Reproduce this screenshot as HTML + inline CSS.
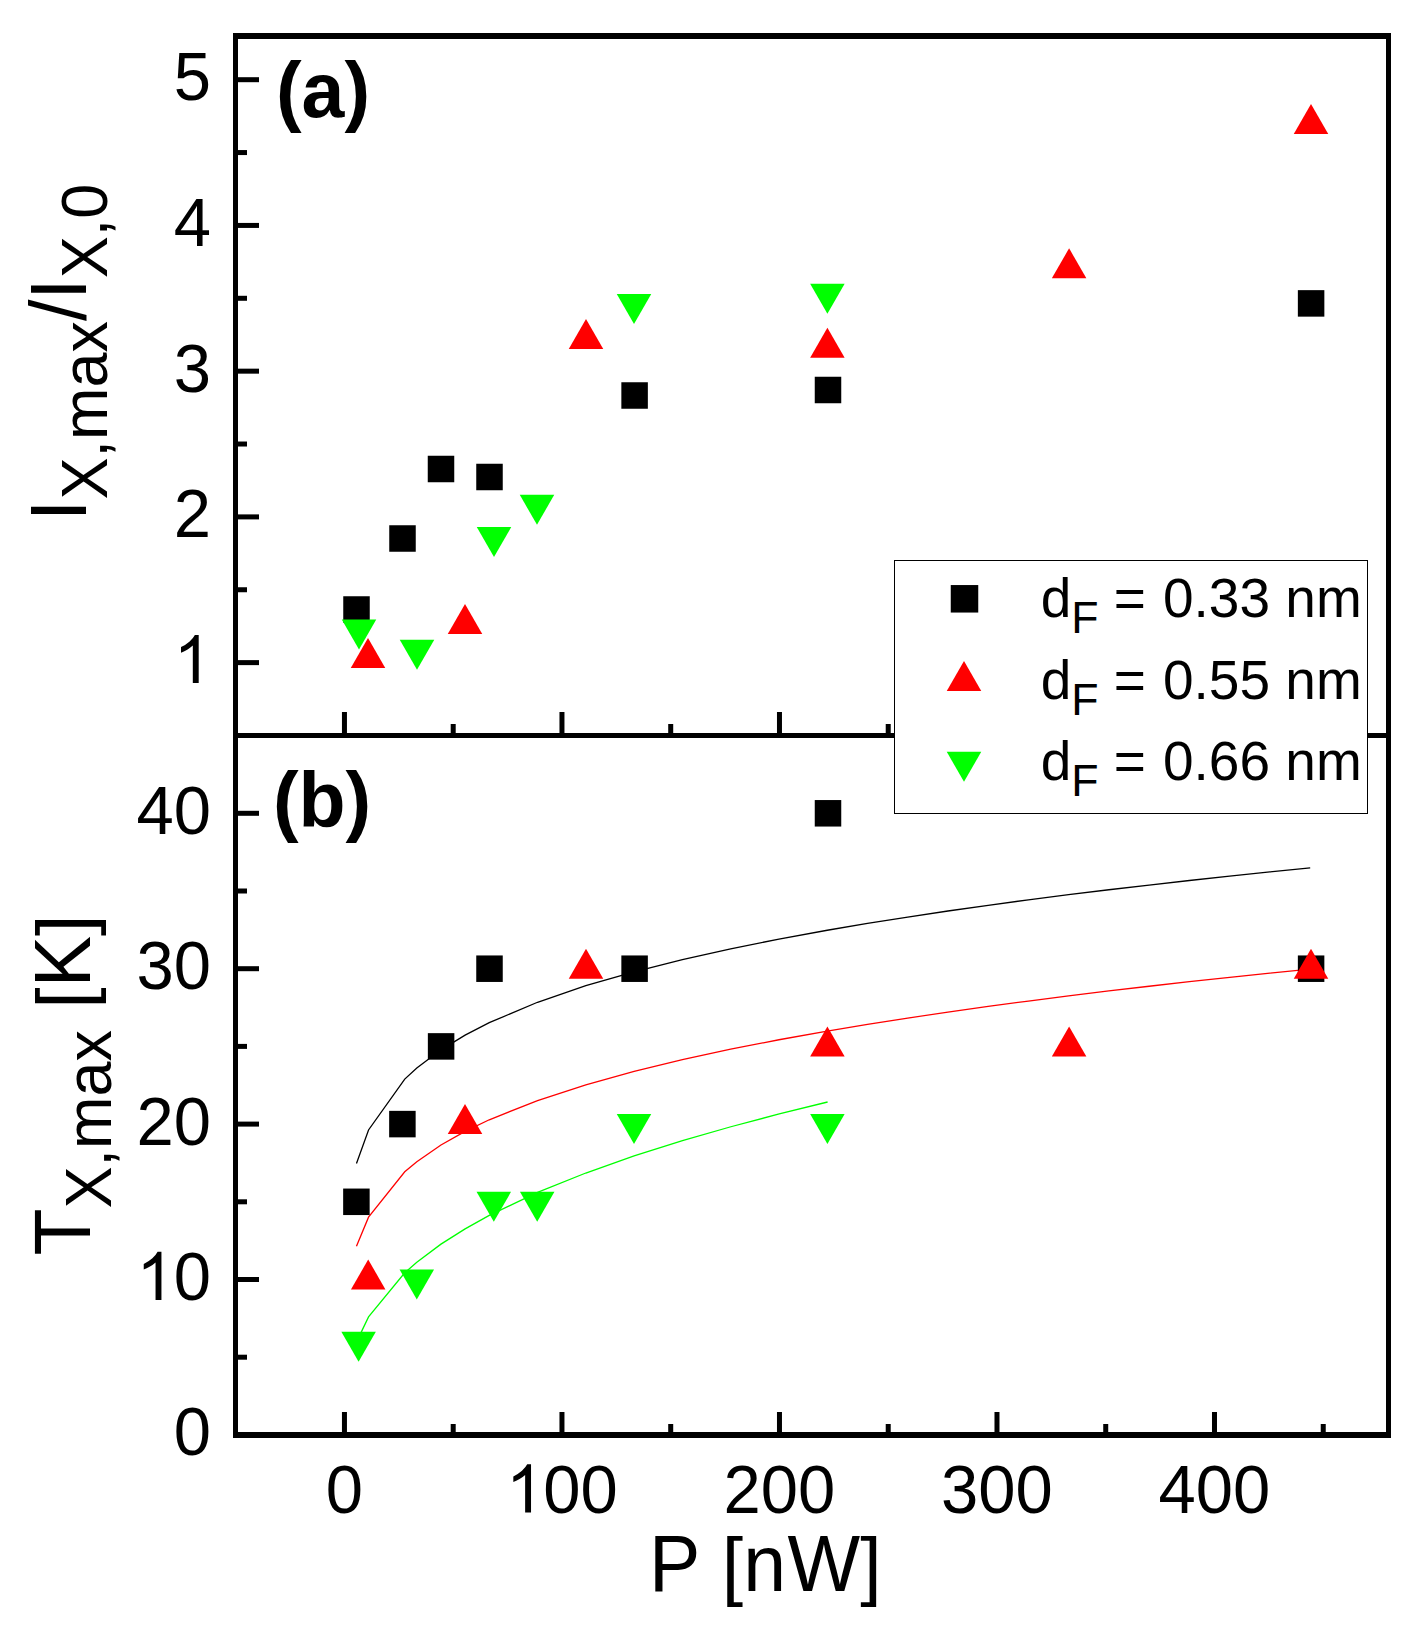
<!DOCTYPE html>
<html><head><meta charset="utf-8"><style>
html,body{margin:0;padding:0;background:#fff;width:1413px;height:1628px;overflow:hidden}
</style></head><body>
<svg width="1413" height="1628" viewBox="0 0 1413 1628" style="position:absolute;left:0;top:0">
<rect x="0" y="0" width="1413" height="1628" fill="#fff"/>
<polyline points="356.46,1163.59 368.54,1129.93 404.75,1079.10 416.82,1068.03 440.97,1049.85 465.11,1035.13 489.26,1022.69 537.54,1002.27 585.83,985.74 634.11,971.77 682.40,959.62 730.68,948.83 778.97,939.12 827.26,930.26 867.48,923.43 907.71,917.02 947.93,910.99 988.15,905.28 1028.38,899.86 1068.60,894.70 1108.87,889.76 1149.13,885.04 1189.40,880.51 1229.67,876.16 1269.93,871.97 1310.20,867.92" fill="none" stroke="#000" stroke-width="1.3" stroke-linejoin="miter"/>
<polyline points="356.46,1246.22 368.54,1217.13 404.75,1171.82 416.82,1161.74 440.97,1145.05 465.11,1131.41 489.26,1119.78 537.54,1100.54 585.83,1084.81 634.11,1071.41 682.40,1059.68 730.68,1049.21 778.97,1039.74 827.26,1031.06 867.48,1024.35 907.71,1018.04 947.93,1012.07 988.15,1006.41 1028.38,1001.03 1068.60,995.89 1108.87,990.97 1149.13,986.25 1189.40,981.72 1229.67,977.35 1269.93,973.14 1310.20,969.07" fill="none" stroke="#f00" stroke-width="1.3" stroke-linejoin="miter"/>
<polyline points="356.46,1342.12 368.54,1316.87 404.75,1272.80 416.82,1262.24 440.97,1244.16 465.11,1228.85 489.26,1215.43 537.54,1192.47 585.83,1173.02 634.11,1155.98 682.48,1140.68 730.86,1126.75 779.23,1113.92 827.60,1102.00" fill="none" stroke="#0f0" stroke-width="1.3" stroke-linejoin="miter"/>
<rect x="343.25" y="596.25" width="26.5" height="26.5" fill="#000"/>
<rect x="389.25" y="525.25" width="26.5" height="26.5" fill="#000"/>
<rect x="427.75" y="455.75" width="26.5" height="26.5" fill="#000"/>
<rect x="476.25" y="463.75" width="26.5" height="26.5" fill="#000"/>
<rect x="621.35" y="382.25" width="26.5" height="26.5" fill="#000"/>
<rect x="814.75" y="376.75" width="26.5" height="26.5" fill="#000"/>
<rect x="1297.85" y="290.15" width="26.5" height="26.5" fill="#000"/>
<rect x="343.15" y="1188.55" width="26.5" height="26.5" fill="#000"/>
<rect x="389.15" y="1110.85" width="26.5" height="26.5" fill="#000"/>
<rect x="427.85" y="1033.15" width="26.5" height="26.5" fill="#000"/>
<rect x="476.25" y="955.45" width="26.5" height="26.5" fill="#000"/>
<rect x="621.35" y="955.45" width="26.5" height="26.5" fill="#000"/>
<rect x="814.75" y="800.05" width="26.5" height="26.5" fill="#000"/>
<rect x="1297.85" y="955.45" width="26.5" height="26.5" fill="#000"/>
<polygon points="368.00,638.00 385.25,668.00 350.75,668.00" fill="#f00"/>
<polygon points="465.00,604.00 482.25,634.00 447.75,634.00" fill="#f00"/>
<polygon points="586.00,319.00 603.25,349.00 568.75,349.00" fill="#f00"/>
<polygon points="827.40,327.70 844.65,357.70 810.15,357.70" fill="#f00"/>
<polygon points="1069.10,248.30 1086.35,278.30 1051.85,278.30" fill="#f00"/>
<polygon points="1311.00,103.90 1328.25,133.90 1293.75,133.90" fill="#f00"/>
<polygon points="368.20,1259.50 385.45,1289.50 350.95,1289.50" fill="#f00"/>
<polygon points="465.00,1104.10 482.25,1134.10 447.75,1134.10" fill="#f00"/>
<polygon points="586.00,948.70 603.25,978.70 568.75,978.70" fill="#f00"/>
<polygon points="827.40,1026.40 844.65,1056.40 810.15,1056.40" fill="#f00"/>
<polygon points="1069.10,1026.40 1086.35,1056.40 1051.85,1056.40" fill="#f00"/>
<polygon points="1311.00,948.70 1328.25,978.70 1293.75,978.70" fill="#f00"/>
<polygon points="341.75,619.50 376.25,619.50 359.00,649.50" fill="#0f0"/>
<polygon points="399.75,639.80 434.25,639.80 417.00,669.80" fill="#0f0"/>
<polygon points="476.75,527.00 511.25,527.00 494.00,557.00" fill="#0f0"/>
<polygon points="519.75,494.80 554.25,494.80 537.00,524.80" fill="#0f0"/>
<polygon points="616.75,294.00 651.25,294.00 634.00,324.00" fill="#0f0"/>
<polygon points="810.15,283.80 844.65,283.80 827.40,313.80" fill="#0f0"/>
<polygon points="341.35,1331.66 375.85,1331.66 358.60,1361.66" fill="#0f0"/>
<polygon points="399.55,1269.50 434.05,1269.50 416.80,1299.50" fill="#0f0"/>
<polygon points="476.55,1191.80 511.05,1191.80 493.80,1221.80" fill="#0f0"/>
<polygon points="519.95,1191.80 554.45,1191.80 537.20,1221.80" fill="#0f0"/>
<polygon points="616.75,1114.10 651.25,1114.10 634.00,1144.10" fill="#0f0"/>
<polygon points="810.15,1114.10 844.65,1114.10 827.40,1144.10" fill="#0f0"/>
<rect x="233" y="33" width="5" height="1405" fill="#000"/>
<rect x="1386" y="33" width="5" height="1405" fill="#000"/>
<rect x="233" y="33" width="1158" height="6" fill="#000"/>
<rect x="233" y="733" width="1158" height="5" fill="#000"/>
<rect x="233" y="1432" width="1158" height="6" fill="#000"/>
<rect x="233" y="660.12" width="26" height="5" fill="#000"/>
<rect x="233" y="514.39" width="26" height="5" fill="#000"/>
<rect x="233" y="368.66" width="26" height="5" fill="#000"/>
<rect x="233" y="222.93" width="26" height="5" fill="#000"/>
<rect x="233" y="77.20" width="26" height="5" fill="#000"/>
<rect x="233" y="587.25" width="14" height="5" fill="#000"/>
<rect x="233" y="441.52" width="14" height="5" fill="#000"/>
<rect x="233" y="295.79" width="14" height="5" fill="#000"/>
<rect x="233" y="150.06" width="14" height="5" fill="#000"/>
<rect x="233" y="1277.00" width="26" height="5" fill="#000"/>
<rect x="233" y="1121.60" width="26" height="5" fill="#000"/>
<rect x="233" y="966.20" width="26" height="5" fill="#000"/>
<rect x="233" y="810.80" width="26" height="5" fill="#000"/>
<rect x="233" y="1354.70" width="14" height="5" fill="#000"/>
<rect x="233" y="1199.30" width="14" height="5" fill="#000"/>
<rect x="233" y="1043.90" width="14" height="5" fill="#000"/>
<rect x="233" y="888.50" width="14" height="5" fill="#000"/>
<rect x="341.95" y="712" width="5" height="26" fill="#000"/>
<rect x="341.95" y="1412" width="5" height="26" fill="#000"/>
<rect x="559.46" y="712" width="5" height="26" fill="#000"/>
<rect x="559.46" y="1412" width="5" height="26" fill="#000"/>
<rect x="776.97" y="712" width="5" height="26" fill="#000"/>
<rect x="776.97" y="1412" width="5" height="26" fill="#000"/>
<rect x="994.48" y="712" width="5" height="26" fill="#000"/>
<rect x="994.48" y="1412" width="5" height="26" fill="#000"/>
<rect x="1211.99" y="712" width="5" height="26" fill="#000"/>
<rect x="1211.99" y="1412" width="5" height="26" fill="#000"/>
<rect x="450.70" y="724" width="5" height="14" fill="#000"/>
<rect x="450.70" y="1424" width="5" height="14" fill="#000"/>
<rect x="668.21" y="724" width="5" height="14" fill="#000"/>
<rect x="668.21" y="1424" width="5" height="14" fill="#000"/>
<rect x="885.72" y="724" width="5" height="14" fill="#000"/>
<rect x="885.72" y="1424" width="5" height="14" fill="#000"/>
<rect x="1103.23" y="724" width="5" height="14" fill="#000"/>
<rect x="1103.23" y="1424" width="5" height="14" fill="#000"/>
<rect x="1320.74" y="724" width="5" height="14" fill="#000"/>
<rect x="1320.74" y="1424" width="5" height="14" fill="#000"/>
<g transform="translate(173.74,683.12) scale(1,1.033)"><path d="M 763 0 L 583 0 L 583 1147 Q 518 1085 412 1023 Q 306 961 222 930 L 222 1104 Q 373 1175 486 1276 Q 599 1377 646 1472 L 763 1472 Z" transform="translate(0.00,0) scale(0.03271,-0.03167)" fill="#000"/></g>
<g transform="translate(173.74,537.39) scale(1,1.033)"><text x="0.00" y="0" font-family="Liberation Sans" font-size="67">2</text></g>
<g transform="translate(173.74,391.66) scale(1,1.033)"><text x="0.00" y="0" font-family="Liberation Sans" font-size="67">3</text></g>
<g transform="translate(173.74,245.93) scale(1,1.033)"><text x="0.00" y="0" font-family="Liberation Sans" font-size="67">4</text></g>
<g transform="translate(173.74,100.20) scale(1,1.033)"><text x="0.00" y="0" font-family="Liberation Sans" font-size="67">5</text></g>
<g transform="translate(173.74,1455.40) scale(1,1.033)"><text x="0.00" y="0" font-family="Liberation Sans" font-size="67">0</text></g>
<g transform="translate(136.48,1300.00) scale(1,1.033)"><path d="M 763 0 L 583 0 L 583 1147 Q 518 1085 412 1023 Q 306 961 222 930 L 222 1104 Q 373 1175 486 1276 Q 599 1377 646 1472 L 763 1472 Z" transform="translate(0.00,0) scale(0.03271,-0.03167)" fill="#000"/><text x="37.26" y="0" font-family="Liberation Sans" font-size="67">0</text></g>
<g transform="translate(136.48,1144.60) scale(1,1.033)"><text x="0.00" y="0" font-family="Liberation Sans" font-size="67">2</text><text x="37.26" y="0" font-family="Liberation Sans" font-size="67">0</text></g>
<g transform="translate(136.48,989.20) scale(1,1.033)"><text x="0.00" y="0" font-family="Liberation Sans" font-size="67">3</text><text x="37.26" y="0" font-family="Liberation Sans" font-size="67">0</text></g>
<g transform="translate(136.48,833.80) scale(1,1.033)"><text x="0.00" y="0" font-family="Liberation Sans" font-size="67">4</text><text x="37.26" y="0" font-family="Liberation Sans" font-size="67">0</text></g>
<g transform="translate(325.82,1512.50) scale(1,1.033)"><text x="0.00" y="0" font-family="Liberation Sans" font-size="67">0</text></g>
<g transform="translate(506.07,1512.50) scale(1,1.033)"><path d="M 763 0 L 583 0 L 583 1147 Q 518 1085 412 1023 Q 306 961 222 930 L 222 1104 Q 373 1175 486 1276 Q 599 1377 646 1472 L 763 1472 Z" transform="translate(0.00,0) scale(0.03271,-0.03167)" fill="#000"/><text x="37.26" y="0" font-family="Liberation Sans" font-size="67">0</text><text x="74.52" y="0" font-family="Liberation Sans" font-size="67">0</text></g>
<g transform="translate(723.58,1512.50) scale(1,1.033)"><text x="0.00" y="0" font-family="Liberation Sans" font-size="67">2</text><text x="37.26" y="0" font-family="Liberation Sans" font-size="67">0</text><text x="74.52" y="0" font-family="Liberation Sans" font-size="67">0</text></g>
<g transform="translate(941.09,1512.50) scale(1,1.033)"><text x="0.00" y="0" font-family="Liberation Sans" font-size="67">3</text><text x="37.26" y="0" font-family="Liberation Sans" font-size="67">0</text><text x="74.52" y="0" font-family="Liberation Sans" font-size="67">0</text></g>
<g transform="translate(1158.60,1512.50) scale(1,1.033)"><text x="0.00" y="0" font-family="Liberation Sans" font-size="67">4</text><text x="37.26" y="0" font-family="Liberation Sans" font-size="67">0</text><text x="74.52" y="0" font-family="Liberation Sans" font-size="67">0</text></g>
<text transform="translate(648.99,1590.50) rotate(0) scale(1,1.035)" font-family="Liberation Sans" font-size="77" xml:space="preserve">P </text><text transform="translate(721.74,1590.50) rotate(0) scale(1,0.975)" font-family="Liberation Sans" font-size="77" xml:space="preserve">[</text><text transform="translate(743.13,1590.50) rotate(0) scale(1,1.035)" font-family="Liberation Sans" font-size="77" xml:space="preserve">n</text><text transform="translate(787.45,1590.50) rotate(0) scale(1,1.035)" font-family="Liberation Sans" font-size="77" xml:space="preserve">W</text><text transform="translate(860.13,1590.50) rotate(0) scale(1,0.975)" font-family="Liberation Sans" font-size="77" xml:space="preserve">]</text>
<text transform="translate(86.00,521.00) rotate(-90) scale(1,1.035)" font-family="Liberation Sans" font-size="77" xml:space="preserve">I</text><text transform="translate(107.00,499.61) rotate(-90) scale(1,1.035)" font-family="Liberation Sans" font-size="63" xml:space="preserve">X,max</text><text transform="translate(86.00,321.07) rotate(-90) scale(1,1.035)" font-family="Liberation Sans" font-size="77" xml:space="preserve">/I</text><text transform="translate(107.00,278.28) rotate(-90) scale(1,1.035)" font-family="Liberation Sans" font-size="63" xml:space="preserve">X,0</text>
<text transform="translate(90.20,1255.60) rotate(-90) scale(1,1.035)" font-family="Liberation Sans" font-size="77" xml:space="preserve">T</text><text transform="translate(111.20,1208.57) rotate(-90) scale(1,1.035)" font-family="Liberation Sans" font-size="63" xml:space="preserve">X,max</text><text transform="translate(90.20,1030.02) rotate(-90) scale(1,1.035)" font-family="Liberation Sans" font-size="77" xml:space="preserve"> </text><text transform="translate(90.20,1008.63) rotate(-90) scale(1,0.975)" font-family="Liberation Sans" font-size="77" xml:space="preserve">[</text><text transform="translate(90.20,987.24) rotate(-90) scale(1,1.035)" font-family="Liberation Sans" font-size="77" xml:space="preserve">K</text><text transform="translate(90.20,935.88) rotate(-90) scale(1,0.975)" font-family="Liberation Sans" font-size="77" xml:space="preserve">]</text>
<text x="275.95" y="116.5" font-family="Liberation Sans" font-size="77" font-weight="bold">(a)</text>
<text x="272.95" y="826.5" font-family="Liberation Sans" font-size="77" font-weight="bold">(b)</text>
<rect x="894.5" y="560.5" width="473" height="253" fill="#fff" stroke="#000" stroke-width="1"/>
<rect x="950.75" y="585.05" width="27.5" height="27.5" fill="#000"/>
<polygon points="964.00,660.90 981.25,690.90 946.75,690.90" fill="#f00"/>
<polygon points="946.75,751.80 981.25,751.80 964.00,781.80" fill="#0f0"/>
<text x="1040.7" y="617.30" font-family="Liberation Sans" font-size="55">d<tspan font-size="44.7" dy="16">F</tspan><tspan dy="-16"> = </tspan><tspan dx="1.7">0.33 nm</tspan></text>
<text x="1040.7" y="698.80" font-family="Liberation Sans" font-size="55">d<tspan font-size="44.7" dy="16">F</tspan><tspan dy="-16"> = </tspan><tspan dx="1.7">0.55 nm</tspan></text>
<text x="1040.7" y="780.30" font-family="Liberation Sans" font-size="55">d<tspan font-size="44.7" dy="16">F</tspan><tspan dy="-16"> = </tspan><tspan dx="1.7">0.66 nm</tspan></text>
</svg>
</body></html>
